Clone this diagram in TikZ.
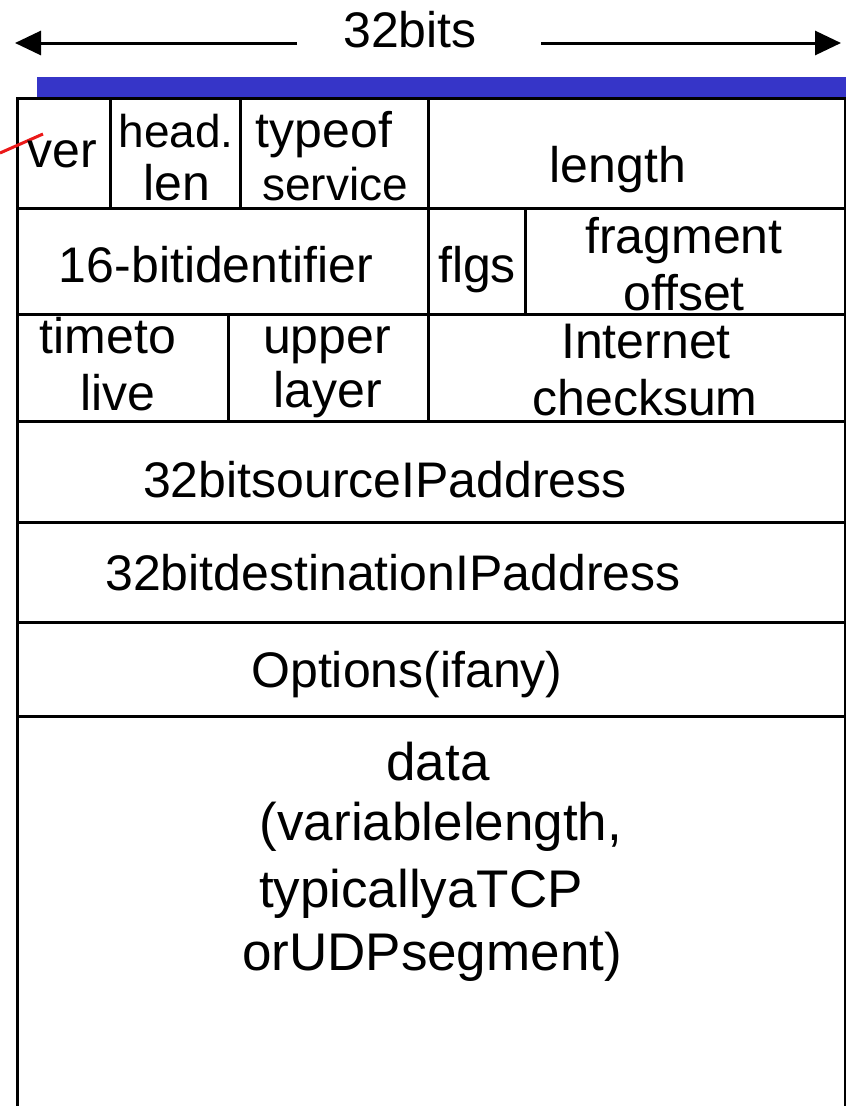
\documentclass[tikz,border=0pt]{standalone}
\usepackage{fontspec}
\setmainfont{Liberation Sans}
\usetikzlibrary{arrows.meta}
\definecolor{headerblue}{RGB}{54,53,200}
\definecolor{markred}{RGB}{235,25,25}
\begin{document}
\begin{tikzpicture}[x=1pt,y=-1pt,line width=3pt,
  lbl/.style={font=\fontsize{50}{55}\selectfont,inner sep=0pt,anchor=base},
  narrowlbl/.style={lbl,font=\fontsize{46}{55}\selectfont},
  dlbl/.style={lbl,font=\fontsize{53}{63}\selectfont},
  widthtip/.style={-{Triangle[length=26pt,width=24pt]}}]
\useasboundingbox (0,0) rectangle (846,1106);

% width indicator
\node[lbl] (bits) at (410,47) {32bits};
\coordinate (lstart) at (297,43);
\coordinate (ltip) at (15,43);
\coordinate (rstart) at (541,43);
\coordinate (rtip) at (841,43);
\draw[widthtip] (lstart) -- (ltip);
\draw[widthtip] (rstart) -- (rtip);

% header bar
\fill[headerblue] (37,77) rectangle (846,97);

% outer frame and row separators
\draw (17,1110) -- (17,98) -- (846,98);
\draw (845,98) -- (845,1110);
\foreach \y in {208,314,421,522,622,716}
  \draw (17,\y) -- (846,\y);

% field separators
\draw (110,98) -- (110,208);
\draw (240,98) -- (240,208);
\draw (428,98) -- (428,421);
\draw (525,208) -- (525,314);
\draw (228,314) -- (228,421);

% red mark
\draw[markred] (0,153) -- (43,134);

% row 1
\node[lbl] (ver) at (62,167) {ver};
\node[narrowlbl] (hlA) at (176,147) {head.};
\node[lbl] (hlB) at (177,200) {len};
\node[lbl] (tosA) at (324,147) {typeof};
\node[narrowlbl] (tosB) at (335,200) {service};
\node[lbl] (len) at (618,182) {length};
% row 2
\node[lbl] (ident) at (216,282) {16-bitidentifier};
\node[lbl] (flgs) at (477,282) {flgs};
\node[lbl] (fragA) at (684,253) {fragment};
\node[lbl] (fragB) at (684,310) {offset};
% row 3
\node[lbl] (ttlA) at (108,353) {timeto};
\node[lbl] (ttlB) at (118,410) {live};
\node[lbl] (ulA) at (327,353) {upper};
\node[lbl] (ulB) at (328,407) {layer};
\node[lbl] (csA) at (646,358) {Internet};
\node[lbl] (csB) at (645,415) {checksum};
% addresses and options
\node[lbl] (src) at (385,497) {32bitsourceIPaddress};
\node[lbl] (dst) at (393,590) {32bitdestinationIPaddress};
\node[lbl] (opt) at (407,687) {Options(ifany)};
% payload
\node[dlbl] (dA) at (438,780) {data};
\node[dlbl] (dB) at (441,840) {(variablelength,};
\node[dlbl] (dC) at (421,907) {typicallyaTCP};
\node[dlbl] (dD) at (432,970) {orUDPsegment)};
\end{tikzpicture}
\end{document}
